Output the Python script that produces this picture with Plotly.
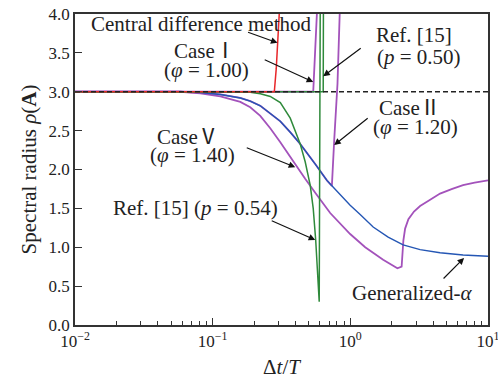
import math
import plotly.graph_objects as go

# ---- data: time-step ratio dt/T and spectral radius rho(A) ----
central_x = [0.01, 0.2805, 0.2897, 0.3045]
central_y = [3.0, 3.0, 3.3, 4.0]

case1_x = [0.01, 0.5375, 0.5715]
case1_y = [3.0, 3.0, 4.0]

ref050_x = [0.01, 0.6353, 0.6375]
ref050_y = [3.0, 3.0, 4.0]

ref054_x = [0.01, 0.159, 0.1875, 0.222, 0.262, 0.310, 0.366, 0.432, 0.470,
            0.511, 0.5375, 0.5604, 0.5746, 0.5873, 0.5943, 0.6042]
ref054_y = [3.0, 3.0, 2.995, 2.975, 2.94, 2.86, 2.66, 2.33, 2.10,
            1.80, 1.50, 1.09, 0.80, 0.55, 0.30, 4.0]

# Case II and generalized-alpha coincide until the Case II branch turns up
shared_x = [0.01, 0.0583, 0.0814, 0.1137, 0.1588, 0.1875, 0.2218, 0.262,
            0.310, 0.366, 0.432, 0.556, 0.6758, 0.7344]
shared_y = [3.0, 3.0, 2.99, 2.965, 2.92, 2.88, 2.82, 2.72,
            2.62, 2.48, 2.33, 2.07, 1.86, 1.79]

case2_x = shared_x + [0.742, 0.7633, 0.8066, 0.837]
case2_y = shared_y + [2.0, 2.37, 3.1, 4.0]

galpha_x = shared_x + [0.8437, 0.997, 1.179, 1.465, 1.882, 2.418, 3.212,
                       4.486, 6.587, 10.0]
galpha_y = shared_y + [1.67, 1.54, 1.42, 1.26, 1.13, 1.03, 0.97,
                       0.93, 0.90, 0.885]

case5_x = [0.01, 0.0583, 0.0814, 0.1137, 0.1588, 0.1875, 0.2218, 0.262,
           0.310, 0.3848, 0.470, 0.556, 0.714, 0.997, 1.282, 1.731,
           2.198, 2.358, 2.40, 2.429, 2.50, 2.641, 2.90, 3.212, 3.80,
           4.486, 5.50, 6.587, 8.0, 10.0]
case5_y = [3.0, 3.0, 2.98, 2.94, 2.87, 2.80, 2.69, 2.53,
           2.35, 2.10, 1.88, 1.70, 1.44, 1.17, 1.00, 0.84,
           0.73, 0.75, 0.92, 1.09, 1.24, 1.36, 1.46, 1.53, 1.61,
           1.69, 1.75, 1.80, 1.83, 1.86]

ref_x = [0.01, 10.0]
ref_y = [3.0, 3.0]

RED = "#e8262a"
GREEN = "#2f8a3b"
PURPLE = "#a352bb"
BLUE = "#2456b4"
FONT = "Liberation Serif, Times New Roman, serif"


def roman(numeral):
    # full-width Roman numeral glyph; its side bearing acts as the word space
    return '<span style="font-family:Noto Sans CJK SC">' + numeral + "</span>"


fig = go.Figure()


def add_line(x, y, color, width=1.5, dash="solid"):
    fig.add_trace(go.Scatter(x=x, y=y, mode="lines",
                             line=dict(color=color, width=width, dash=dash),
                             showlegend=False, hoverinfo="skip"))


add_line(case5_x, case5_y, PURPLE, 1.8)
add_line(case2_x, case2_y, PURPLE, 1.8)
add_line(case1_x, case1_y, PURPLE, 1.8)
add_line(galpha_x, galpha_y, BLUE, 1.4)
add_line(ref054_x, ref054_y, GREEN, 1.5)
add_line(ref050_x, ref050_y, GREEN, 1.5)
add_line(central_x, central_y, RED, 1.5)
add_line(ref_x, ref_y, "#222222", 1.3, "5px,3px")

# text labels (paper-fraction centres)
labels = [
    ("Central difference method", 0.306, 0.968),
    ("Case" + roman("Ⅰ"), 0.3156, 0.8875),
    ("(<i>φ</i> = 1.00)", 0.318, 0.82),
    ("Ref. [15]", 0.821, 0.9325),
    ("(<i>p</i> = 0.50)", 0.834, 0.8617),
    ("Case" + roman("Ⅱ"), 0.811, 0.704),
    ("(<i>φ</i> = 1.20)", 0.8235, 0.6367),
    ("Case" + roman("Ⅴ"), 0.2745, 0.611),
    ("(<i>φ</i> = 1.40)", 0.284, 0.5466),
    ("Ref. [15] (<i>p</i> = 0.54)", 0.2915, 0.376),
    ("Generalized-<i>α</i>", 0.816, 0.1029),
]
for text, xp, yp in labels:
    fig.add_annotation(text=text, x=xp, y=yp, xref="paper", yref="paper",
                       xanchor="center", yanchor="middle", showarrow=False,
                       font=dict(family=FONT, size=21, color="#222"))

# arrows: tip in data coordinates (log10 for x), tail as pixel offset
arrows = [
    (0.296, 3.63, -31, -11),
    (0.5375, 3.125, -50, -23),
    (0.6353, 3.20, 39, -29),
    (0.7633, 2.315, 35, -28),
    (0.398, 2.03, -50, -20),
    (0.556, 1.093, -45, -20),
    (6.70, 0.862, -22, 22),
]
for xt, yt, ax, ay in arrows:
    fig.add_annotation(x=math.log10(xt), y=yt, xref="x", yref="y",
                       ax=ax, ay=ay, axref="pixel", ayref="pixel",
                       text="", showarrow=True, arrowhead=2, arrowsize=1.1,
                       arrowwidth=1.2, arrowcolor="#111", standoff=0)

minor_vals = [m * 10 ** e for e in (-2, -1, 0) for m in range(2, 10)]

fig.update_layout(
    width=498, height=379,
    margin=dict(l=75, r=10, t=14, b=54),
    paper_bgcolor="white", plot_bgcolor="white",
    font=dict(family=FONT, size=17, color="#222"),
    xaxis=dict(
        type="log", range=[-2, 1], automargin=False,
        tickvals=[0.01, 0.1, 1, 10],
        ticktext=["10<sup>−2</sup>", "10<sup>−1</sup>", "10<sup>0</sup>", "10<sup>1</sup>"],
        ticklabeloverflow="allow",
        ticks="inside", ticklen=7, tickwidth=1.2, tickcolor="#333",
        minor=dict(tickvals=minor_vals, ticks="inside", ticklen=4,
                   tickwidth=1, tickcolor="#333", showgrid=False),
        showgrid=False, zeroline=False,
        showline=True, linecolor="#333", linewidth=1.8, mirror=True,
        title=dict(text="Δ<i>t</i>/<i>T</i>", standoff=10,
                   font=dict(family=FONT, size=21)),
    ),
    yaxis=dict(
        range=[0, 4], dtick=0.5, tickformat=".1f", automargin=False,
        ticks="inside", ticklen=7, tickwidth=1.2, tickcolor="#333",
        showgrid=False, zeroline=False,
        showline=True, linecolor="#333", linewidth=1.8, mirror=True,
        title=dict(text="Spectral radius <i>ρ</i>(<b>A</b>)", standoff=6,
                   font=dict(family=FONT, size=21)),
    ),
)

fig.write_html("out.html")
